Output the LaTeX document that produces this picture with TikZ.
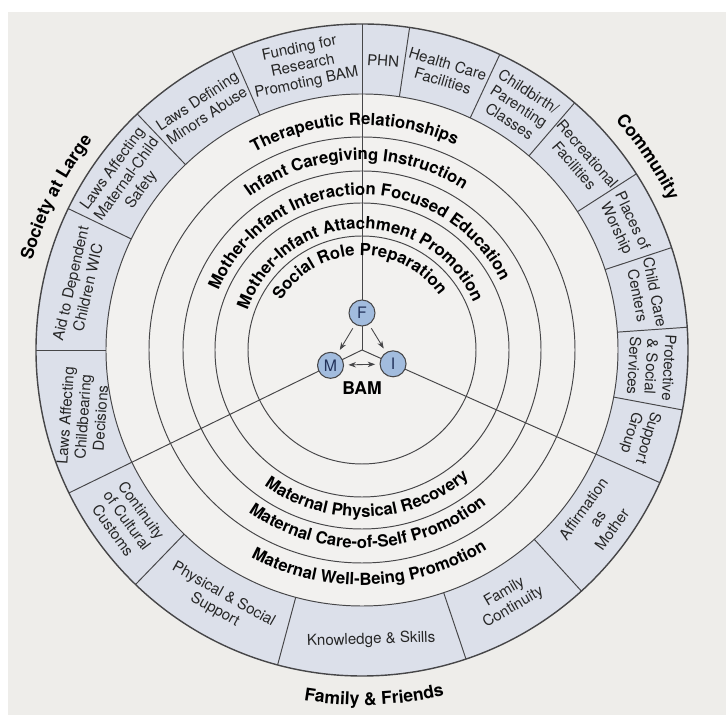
\documentclass[tikz,border=0pt]{standalone}
\usepackage{fontspec}
\setmainfont{TeX Gyre Heros}
\usetikzlibrary{arrows.meta,positioning,decorations.text}

\definecolor{paper}{RGB}{238,237,234}
\definecolor{disc}{RGB}{242,241,239}
\definecolor{ringfill}{RGB}{220,224,234}
\definecolor{ink}{RGB}{70,70,72}
\definecolor{bamfill}{RGB}{162,188,222}
\definecolor{bamtext}{RGB}{35,50,90}
\newcommand{\arcfont}{\bfseries\fontsize{9.5}{11}\selectfont}
\newcommand{\sidefont}{\bfseries\fontsize{10}{12}\selectfont}

\begin{document}
\begin{tikzpicture}[
  ringline/.style={draw=ink, line width=0.55pt},
  segtext/.style={align=center, inner sep=0pt, text=black!85,
    font=\fontsize{8.6}{10}\selectfont},
  person/.style={circle, draw=ink, fill=bamfill, line width=0.6pt,
    minimum size=0.52cm, inner sep=0pt, text=bamtext,
    font=\fontsize{9}{10}\selectfont},
  arr/.style={-{Stealth[length=1.5mm,width=1.1mm]}, ink, line width=0.5pt,
    shorten >=2.5pt, shorten <=2.5pt},
  arctext/.style={decorate, decoration={text along path,
    text align=center, text={|\arcfont|#1}}},
  sidetext/.style={decorate, decoration={text along path,
    text align=center, text={|\sidefont|#1}}},
]
  \useasboundingbox (-7.24,-7.30) rectangle (7.28,7.00);
  \fill[white] (-7.24,-7.30) rectangle (7.28,7.00);
  \fill[paper] (-7.08,-7.30) rectangle (7.28,6.76);

  % rings
  \fill[disc] (0,0) circle (5.12);
  \fill[ringfill, even odd rule] (0,0) circle (6.52) (0,0) circle (5.12);
  \foreach \r in {2.28,2.94,3.58,4.26,5.12}
    \draw[ringline] (0,0) circle (\r);
  \draw[ringline, line width=0.8pt] (0,0) circle (6.52);
  \foreach \a in {113.5,81.6,65,49.3,32.7,18.3,4,-10.6,-47.7,-71.4,-105,226,180,154.3,133.6}
    \draw[ringline] (\a:5.12) -- (\a:6.52);
  \foreach \a in {90,206,336}
    \draw[ringline] (0,0) -- (\a:6.52);

  % outer ring boxes
  \node[segtext, rotate=11.75] (fund) at (101.75:5.8) {Funding for\\Research\\Promoting BAM};
  \node[segtext, rotate=-4.2] (phn) at (85.8:5.8) {PHN};
  \node[segtext, rotate=-16.7] (health) at (73.3:5.8) {Health Care\\Facilities};
  \node[segtext, rotate=-32.8] (birth) at (57.2:5.8) {Childbirth/\\Parenting\\Classes};
  \node[segtext, rotate=-49] (recr) at (41:5.8) {Recreational\\Facilities};
  \node[segtext, rotate=-64.5] (worship) at (25.5:5.8) {Places of\\Worship};
  \node[segtext, rotate=-78.85] (care) at (11.15:5.8) {Child Care\\Centers};
  \node[segtext, rotate=-93.3] (protect) at (-3.3:5.8) {Protective\\\& Social\\Services};
  \node[segtext, rotate=-107.1] (support) at (-17.1:5.8) {Support\\Group};
  \node[segtext, rotate=54.35] (affirm) at (-35.65:5.8) {Affirmation\\as\\Mother};
  \node[segtext, rotate=30.45] (famcont) at (-59.55:5.8) {Family\\Continuity};
  \node[segtext, rotate=1.8] (skills) at (-88.2:5.8) {Knowledge \& Skills};
  \node[segtext, rotate=-29.5] (physsoc) at (-119.5:5.8) {Physical \& Social\\Support};
  \node[segtext, rotate=-54] (customs) at (216:5.8) {Continuity\\of Cultural\\Customs};
  \node[segtext, rotate=86] (childbear) at (193.5:5.74) {Laws Affecting\\Childbearing\\Decisions};
  \node[segtext, rotate=77.15] (wic) at (167.15:5.8) {Aid to Dependent\\Children WIC};
  \node[segtext, rotate=54] (safety) at (144:5.8) {Laws Affecting\\Maternal-Child\\Safety};
  \node[segtext, rotate=33.5] (minors) at (123.5:5.8) {Laws Defining\\Minors Abuse};

  % ring labels
  \path[arctext={Social Role Preparation}] (182:1.89) arc[start angle=182, end angle=2, radius=1.89];
  \path[arctext={Mother-Infant Attachment Promotion}] (182:2.42) arc[start angle=182, end angle=2, radius=2.42];
  \path[arctext={Mother-Infant Interaction Focused Education}] (182:3.10) arc[start angle=182, end angle=2, radius=3.10];
  \path[arctext={Infant Caregiving Instruction}] (182:3.80) arc[start angle=182, end angle=2, radius=3.80];
  \path[arctext={Therapeutic Relationships}] (182:4.50) arc[start angle=182, end angle=2, radius=4.50];
  \path[arctext={Maternal Physical Recovery}] (182:3.34) arc[start angle=182, end angle=362, radius=3.34];
  \path[arctext={Maternal Care-of-Self Promotion}] (182:3.96) arc[start angle=182, end angle=362, radius=3.96];
  \path[arctext={Maternal Well-Being Promotion}] (182:4.70) arc[start angle=182, end angle=362, radius=4.70];

  % outer labels
  \path[sidetext={Society at Large}] (243.5:6.83) arc[start angle=243.5, end angle=63.5, radius=6.83];
  \path[sidetext={Community}] (124:6.83) arc[start angle=124, end angle=-56, radius=6.83];
  \path[sidetext={Family {\&} Friends}] (182:7.1) arc[start angle=182, end angle=362, radius=7.1];

  % BAM triad
  \node[person] (F) at (90:0.74) {F};
  \node[person] (M) at (206:0.70) {M};
  \node[person] (I) at (336:0.68) {I};
  \node[font=\sidefont] (bam) at (0,-0.76) {BAM};
  \draw[arr] (F) -- (M);
  \draw[arr] (F) -- (I);
  \draw[arr, {Stealth[length=1.5mm,width=1.1mm]}-{Stealth[length=1.5mm,width=1.1mm]}] (M) -- (I);
\end{tikzpicture}
\end{document}
